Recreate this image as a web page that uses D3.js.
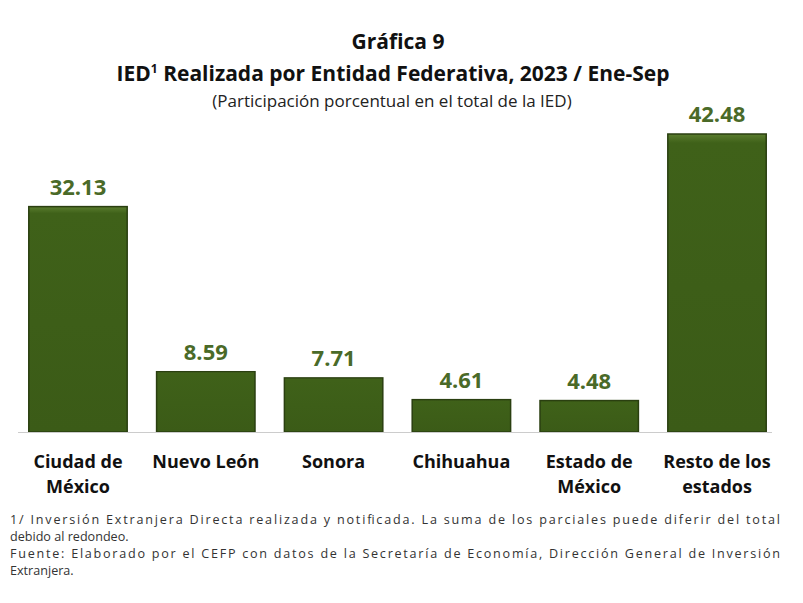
<!DOCTYPE html>
<html><head><meta charset="utf-8">
<script src="https://cdn.jsdelivr.net/npm/d3@7"></script>
<style>body{margin:0;background:#fff;font-family:"Open Sans",sans-serif}</style>
</head><body><svg id="c" width="803" height="603"></svg>
<script>
const categories=[["Ciudad de","México"],["Nuevo León"],["Sonora"],["Chihuahua"],["Estado de","México"],["Resto de los","estados"]];
const values=[32.13,8.59,7.71,4.61,4.48,42.48];
const svg=d3.select("#c");
const x=d3.scaleBand().domain(d3.range(values.length)).range([16,779]).paddingInner(0.23).paddingOuter(0.1);
const y=d3.scaleLinear().domain([0,42.48]).range([432,134]);
const defs=svg.append("defs");
const g=defs.append("linearGradient").attr("id","bg").attr("x1",0).attr("y1",0).attr("x2",0).attr("y2",1);
g.append("stop").attr("offset",0).attr("stop-color","#5a7d2e");
g.append("stop").attr("offset",0.03).attr("stop-color","#3f6119");
g.append("stop").attr("offset",1).attr("stop-color","#3b5b17");
svg.append("text").attr("x",398).attr("y",49).attr("text-anchor","middle").attr("font-size",21).attr("font-weight","bold").attr("fill","#111").text("Gráfica 9");
const t2=svg.append("text").attr("x",393).attr("y",81).attr("text-anchor","middle").attr("font-size",21).attr("font-weight","bold").attr("fill","#111");
t2.append("tspan").text("IED");
t2.append("tspan").attr("font-size",12).attr("dy",-8).text("1");
t2.append("tspan").attr("dy",8).text(" Realizada por Entidad Federativa, 2023 / Ene-Sep");
svg.append("text").attr("x",392).attr("y",107).attr("text-anchor","middle").attr("font-size",17).attr("fill","#222").text("(Participación porcentual en el total de la IED)");
svg.selectAll("rect.b").data(values).join("rect").attr("class","b")
 .attr("x",(d,i)=>x(i)).attr("width",x.bandwidth()).attr("y",d=>y(d)).attr("height",d=>y(0)-y(d))
 .attr("fill","url(#bg)").attr("stroke","#2a3f10").attr("stroke-width",1.5);
svg.append("line").attr("x1",18).attr("x2",772).attr("y1",432.5).attr("y2",432.5).attr("stroke","#ccc");
svg.selectAll("text.v").data(values).join("text").attr("class","v")
 .attr("x",(d,i)=>x(i)+x.bandwidth()/2).attr("y",d=>y(d)-12).attr("text-anchor","middle")
 .attr("font-size",22).attr("font-weight","bold").attr("fill","#4a6a28").text(d=>d.toFixed(2));
categories.forEach((c,i)=>{
 const t=svg.append("text").attr("x",x(i)+x.bandwidth()/2).attr("y",468).attr("text-anchor","middle").attr("font-size",18).attr("font-weight","bold").attr("fill","#111");
 c.forEach((l,j)=>t.append("tspan").attr("x",x(i)+x.bandwidth()/2).attr("dy",j?25:0).text(l));
});
const notes=["1/ Inversión Extranjera Directa realizada y notificada. La suma de los parciales puede diferir del total","debido al redondeo.","Fuente: Elaborado por el CEFP con datos de la Secretaría de Economía, Dirección General de Inversión","Extranjera."];
notes.forEach((n,i)=>svg.append("text").attr("x",10).attr("y",524+i*17).attr("font-size",12.6).attr("textLength",i%2==0?770:null).attr("fill","#333").text(n));
</script></body></html>
